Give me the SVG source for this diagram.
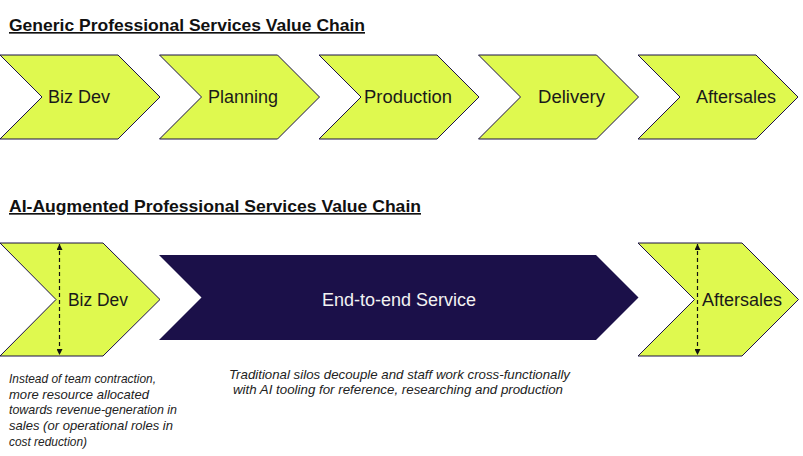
<svg xmlns="http://www.w3.org/2000/svg" width="803" height="456" viewBox="0 0 803 456">
<style>
.chev{fill:#DFF94F;stroke:#1B1049;stroke-width:1}
.dark{fill:#1B1049}
.lbl{font-family:"Liberation Sans",Arial,sans-serif;font-size:17.5px;fill:#1a1a1a}
.title{font-family:"Liberation Sans",Arial,sans-serif;font-size:16.5px;font-weight:bold;fill:#111;text-decoration:underline}
.note{font-family:"Liberation Sans",Arial,sans-serif;font-size:13px;font-style:italic;fill:#222}
.dash{stroke:#111;stroke-width:1.2;stroke-dasharray:4 3;fill:none;marker-start:url(#ah);marker-end:url(#ah)}
</style>
<defs>
<marker id="ah" viewBox="0 0 10 10" refX="10" refY="5" markerWidth="6" markerHeight="6" markerUnits="userSpaceOnUse" orient="auto-start-reverse">
<path d="M0,0 L10,5 L0,10 z" fill="#111"/>
</marker>
</defs>
<rect width="803" height="456" fill="#fff"/>
<text class="title" x="9" y="31" textLength="356" lengthAdjust="spacingAndGlyphs">Generic Professional Services Value Chain</text>
<g id="top-bizdev"><polygon class="chev" points="0,55 118,55 160,97 118,139 0,139 42,97"/><text class="lbl" x="48" y="103" textLength="62" lengthAdjust="spacingAndGlyphs">Biz Dev</text></g>
<g id="top-planning"><polygon class="chev" points="159.5,55 277.5,55 319.5,97 277.5,139 159.5,139 201.5,97"/><text class="lbl" x="208" y="103" textLength="70" lengthAdjust="spacingAndGlyphs">Planning</text></g>
<g id="top-production"><polygon class="chev" points="319,55 437,55 479,97 437,139 319,139 361,97"/><text class="lbl" x="364" y="103" textLength="88" lengthAdjust="spacingAndGlyphs">Production</text></g>
<g id="top-delivery"><polygon class="chev" points="478.5,55 596.5,55 638.5,97 596.5,139 478.5,139 520.5,97"/><text class="lbl" x="538" y="103" textLength="67" lengthAdjust="spacingAndGlyphs">Delivery</text></g>
<g id="top-aftersales"><polygon class="chev" points="638,55 756,55 798,97 756,139 638,139 680,97"/><text class="lbl" x="696" y="103" textLength="80" lengthAdjust="spacingAndGlyphs">Aftersales</text></g>
<text class="title" x="9" y="212" textLength="412" lengthAdjust="spacingAndGlyphs">AI-Augmented Professional Services Value Chain</text>
<g id="ai-bizdev"><polygon class="chev" points="0,243 103,243 160,299.5 103,356 0,356 56,299.5"/><text class="lbl" x="68" y="306" textLength="60" lengthAdjust="spacingAndGlyphs">Biz Dev</text></g>
<g id="ai-e2e"><polygon class="dark" points="159,255 596,255 638.5,297.5 596,340 159,340 201.5,297.5"/><text class="lbl" x="322" y="306" textLength="154" lengthAdjust="spacingAndGlyphs" style="fill:#f2f2f2">End-to-end Service</text></g>
<g id="ai-aftersales"><polygon class="chev" points="638,243 742,243 798.5,299.5 742,356 638,356 694.5,299.5"/><text class="lbl" x="702" y="306" textLength="80" lengthAdjust="spacingAndGlyphs">Aftersales</text></g>
<g id="connectors">
<line class="dash" x1="59.5" y1="244" x2="59.5" y2="355"/>
<line class="dash" x1="697.5" y1="244" x2="697.5" y2="355"/>
</g>
<g id="note-left">
<text class="note" x="9" y="383" textLength="147" lengthAdjust="spacingAndGlyphs">Instead of team contraction,</text>
<text class="note" x="9" y="398.5" textLength="140" lengthAdjust="spacingAndGlyphs">more resource allocated</text>
<text class="note" x="9" y="414" textLength="168" lengthAdjust="spacingAndGlyphs">towards revenue-generation in</text>
<text class="note" x="9" y="430" textLength="164" lengthAdjust="spacingAndGlyphs">sales (or operational roles in</text>
<text class="note" x="9" y="445.5" textLength="78" lengthAdjust="spacingAndGlyphs">cost reduction)</text>
</g>
<g id="note-center">
<text class="note" x="229" y="379" textLength="341" lengthAdjust="spacingAndGlyphs">Traditional silos decouple and staff work cross-functionally</text>
<text class="note" x="233" y="394" textLength="330" lengthAdjust="spacingAndGlyphs">with AI tooling for reference, researching and production</text>
</g>
</svg>
